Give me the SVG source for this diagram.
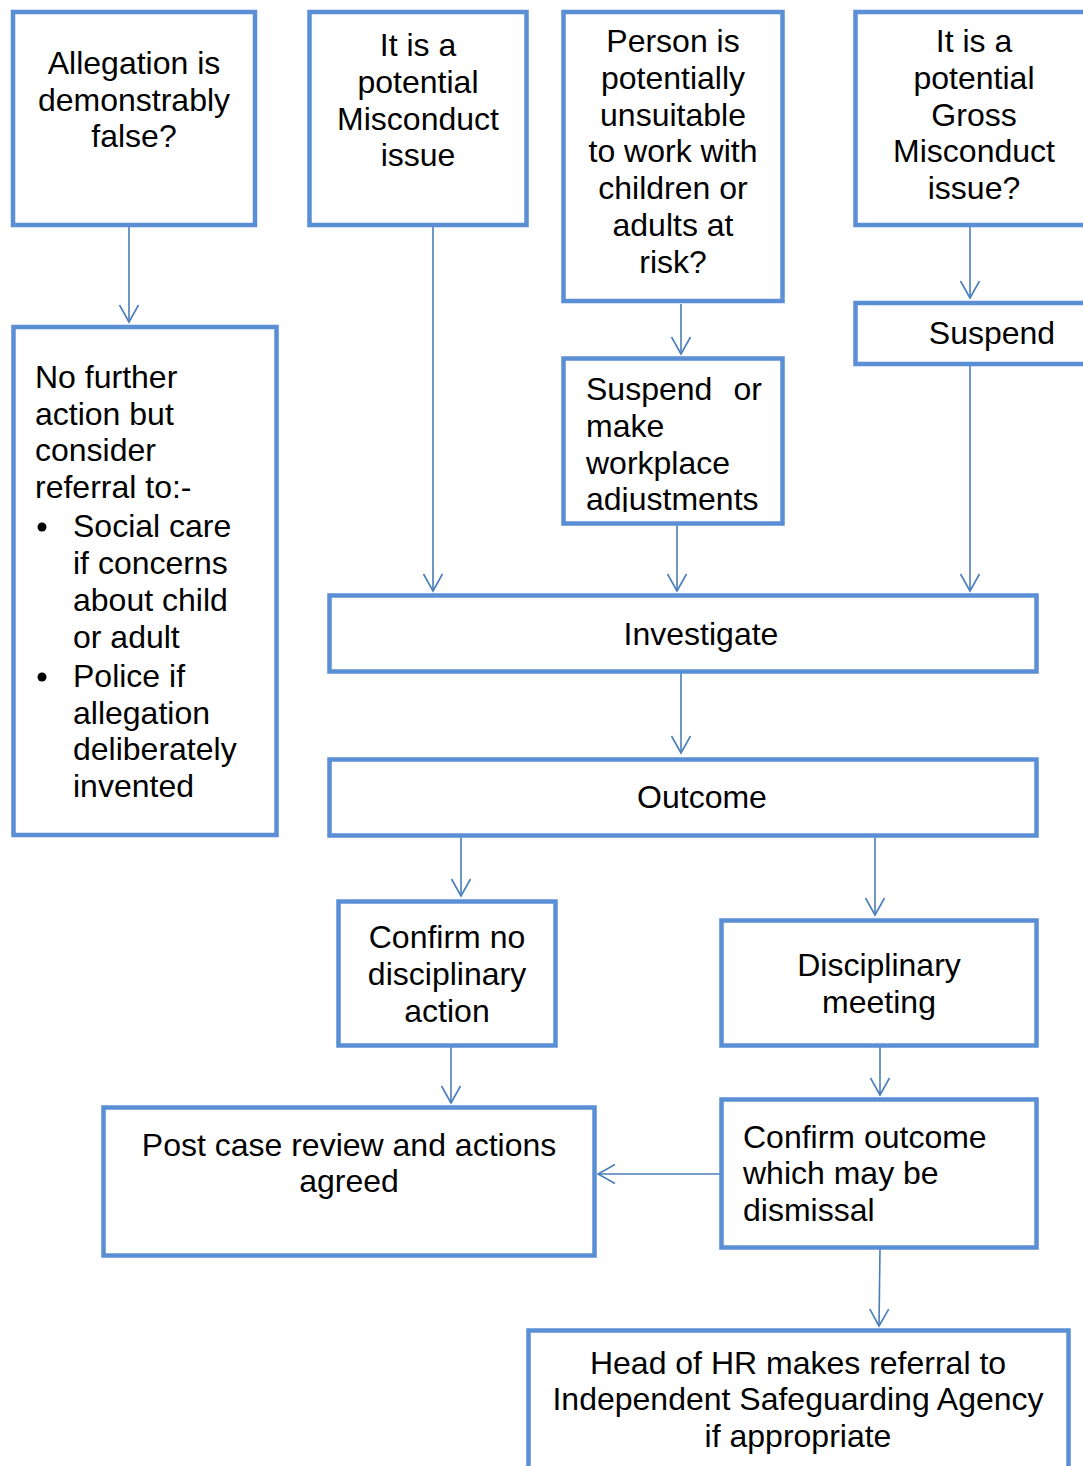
<svg xmlns="http://www.w3.org/2000/svg" width="1083" height="1466" viewBox="0 0 1083 1466">
<style>
.box{fill:#fff;stroke:#5b8fd5;stroke-width:4.5}
.t{font-family:"Liberation Sans",Arial,sans-serif;font-size:32px;fill:#000}
.c{text-anchor:middle}
.con{stroke:#4a7ebb;stroke-width:1.6;fill:none;marker-end:url(#ah)}
</style>
<defs>
<marker id="ah" markerUnits="userSpaceOnUse" markerWidth="22" markerHeight="24" viewBox="-19 -12 22 24" refX="0" refY="0" orient="auto">
<path d="M-17,-9.5 L0,0 L-17,9.5" fill="none" stroke="#4a7ebb" stroke-width="1.6"/>
</marker>
<clipPath id="clip4"><rect x="560" y="355" width="230" height="157"/></clipPath>
</defs>
<g id="connectors">
<line class="con" x1="129" y1="227" x2="129" y2="322"/>
<line class="con" x1="433" y1="227" x2="433" y2="591"/>
<line class="con" x1="681" y1="304" x2="681" y2="354"/>
<line class="con" x1="970" y1="227" x2="970" y2="298"/>
<line class="con" x1="677" y1="525" x2="677" y2="591"/>
<line class="con" x1="970" y1="365" x2="970" y2="591"/>
<line class="con" x1="681" y1="673" x2="681" y2="753"/>
<line class="con" x1="461" y1="837" x2="461" y2="896"/>
<line class="con" x1="875" y1="837" x2="875" y2="915"/>
<line class="con" x1="451" y1="1047" x2="451" y2="1103"/>
<line class="con" x1="880" y1="1047" x2="880" y2="1095"/>
<line class="con" x1="720" y1="1174" x2="598" y2="1174"/>
<line class="con" x1="880" y1="1249" x2="879" y2="1326"/>
</g>
<g id="n1">
<rect class="box" x="13" y="12" width="242" height="213"/>
<text class="t c" x="134" y="74">Allegation is</text>
<text class="t c" x="134" y="110.5">demonstrably</text>
<text class="t c" x="134" y="147">false?</text>
</g>
<g id="n2">
<rect class="box" x="309.5" y="12" width="217" height="213"/>
<text class="t c" x="418" y="56">It is a</text>
<text class="t c" x="418" y="92.8">potential</text>
<text class="t c" x="418" y="129.6">Misconduct</text>
<text class="t c" x="418" y="166.4">issue</text>
</g>
<g id="n3">
<rect class="box" x="563.5" y="12" width="219" height="289"/>
<text class="t c" x="673" y="52">Person is</text>
<text class="t c" x="673" y="88.8">potentially</text>
<text class="t c" x="673" y="125.6">unsuitable</text>
<text class="t c" x="673" y="162.4">to work with</text>
<text class="t c" x="673" y="199.2">children or</text>
<text class="t c" x="673" y="236">adults at</text>
<text class="t c" x="673" y="272.8">risk?</text>
</g>
<g id="n4">
<rect class="box" x="855.5" y="12" width="240" height="213"/>
<text class="t c" x="974" y="52">It is a</text>
<text class="t c" x="974" y="88.8">potential</text>
<text class="t c" x="974" y="125.6">Gross</text>
<text class="t c" x="974" y="162.4">Misconduct</text>
<text class="t c" x="974" y="199.2">issue?</text>
</g>
<g id="n5">
<rect class="box" x="855.5" y="303" width="240" height="61"/>
<text class="t c" x="992" y="344">Suspend</text>
</g>
<g id="n6">
<rect class="box" x="563.5" y="358.5" width="219" height="165"/>
<g clip-path="url(#clip4)">
<text class="t" x="586" y="400">Suspend</text>
<text class="t" x="762" y="400" text-anchor="end">or</text>
<text class="t" x="586" y="437">make</text>
<text class="t" x="586" y="474">workplace</text>
<text class="t" x="586" y="510">adjustments</text>
</g>
</g>
<g id="n7">
<rect class="box" x="13.5" y="327" width="263" height="508"/>
<text class="t" x="35" y="388">No further</text>
<text class="t" x="35" y="424.5">action but</text>
<text class="t" x="35" y="461">consider</text>
<text class="t" x="35" y="498">referral to:-</text>
<circle cx="42" cy="527" r="4.5" fill="#000"/>
<text class="t" x="73" y="537">Social care</text>
<text class="t" x="73" y="574">if concerns</text>
<text class="t" x="73" y="611">about child</text>
<text class="t" x="73" y="648">or adult</text>
<circle cx="42" cy="677" r="4.5" fill="#000"/>
<text class="t" x="73" y="687">Police if</text>
<text class="t" x="73" y="723.5">allegation</text>
<text class="t" x="73" y="760">deliberately</text>
<text class="t" x="73" y="797">invented</text>
</g>
<g id="n8">
<rect class="box" x="329.5" y="595.5" width="707" height="76"/>
<text class="t c" x="701" y="645">Investigate</text>
</g>
<g id="n9">
<rect class="box" x="329.5" y="759.5" width="707" height="76"/>
<text class="t c" x="702" y="808">Outcome</text>
</g>
<g id="n10">
<rect class="box" x="338.5" y="901.5" width="217" height="144"/>
<text class="t c" x="447" y="948">Confirm no</text>
<text class="t c" x="447" y="984.5">disciplinary</text>
<text class="t c" x="447" y="1022">action</text>
</g>
<g id="n11">
<rect class="box" x="721.5" y="920.5" width="315" height="125"/>
<text class="t c" x="879" y="976">Disciplinary</text>
<text class="t c" x="879" y="1013">meeting</text>
</g>
<g id="n12">
<rect class="box" x="103.5" y="1107.5" width="491" height="148"/>
<text class="t c" x="349" y="1156">Post case review and actions</text>
<text class="t c" x="349" y="1192">agreed</text>
</g>
<g id="n13">
<rect class="box" x="721.5" y="1099.5" width="315" height="148"/>
<text class="t" x="743" y="1148">Confirm outcome</text>
<text class="t" x="743" y="1184">which may be</text>
<text class="t" x="743" y="1221">dismissal</text>
</g>
<g id="n14">
<rect class="box" x="528.5" y="1330.5" width="540" height="150"/>
<text class="t c" x="798" y="1374">Head of HR makes referral to</text>
<text class="t c" x="798" y="1410">Independent Safeguarding Agency</text>
<text class="t c" x="798" y="1447">if appropriate</text>
</g>
</svg>
